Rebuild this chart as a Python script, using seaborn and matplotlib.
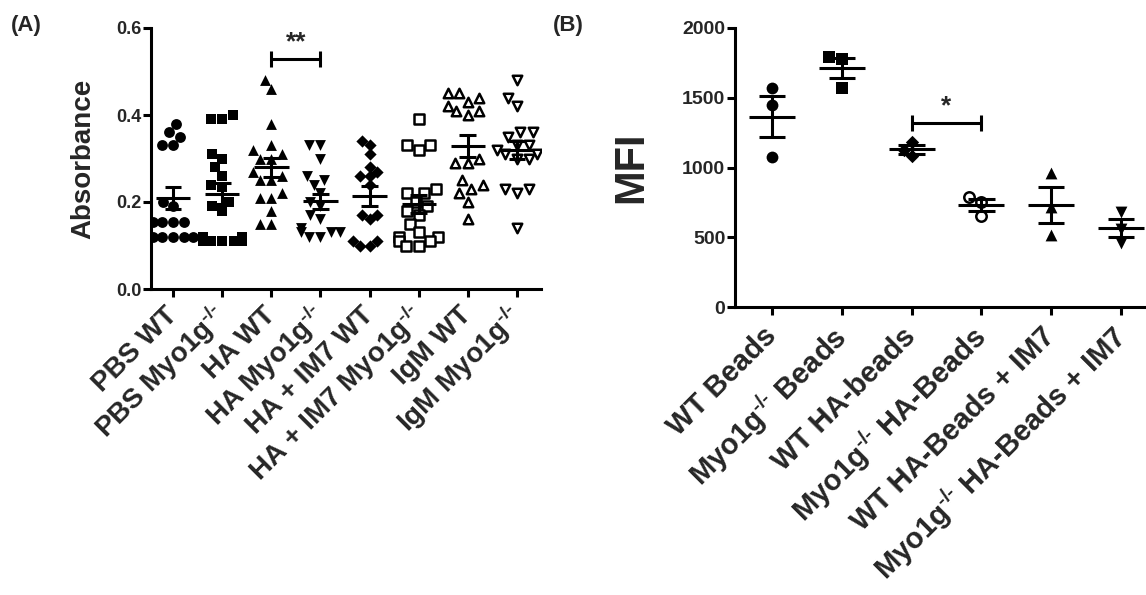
import warnings
import numpy as np
import pandas as pd
import matplotlib
matplotlib.use("Agg")
import matplotlib.pyplot as plt
import seaborn as sns

warnings.filterwarnings("ignore")

# ---- Panel A: absorbance per group ----
KO = "$^{\\text{-/-}}$"
groups_a = ["PBS WT", "PBS Myo1g" + KO, "HA WT", "HA Myo1g" + KO,
            "HA + IM7 WT", "HA + IM7 Myo1g" + KO, "IgM WT", "IgM Myo1g" + KO]
pbs_wt = [0.38, 0.36, 0.35, 0.33, 0.33, 0.20, 0.19, 0.155, 0.155, 0.155, 0.155,
          0.12, 0.12, 0.12, 0.12, 0.12]
pbs_ko = [0.40, 0.39, 0.39, 0.31, 0.30, 0.28, 0.26, 0.24, 0.235, 0.20, 0.19, 0.18,
          0.12, 0.12, 0.11, 0.11, 0.11, 0.11, 0.11]
ha_wt = [0.48, 0.46, 0.38, 0.33, 0.32, 0.31, 0.30, 0.30, 0.27, 0.26, 0.25, 0.25,
         0.22, 0.21, 0.21, 0.18, 0.15, 0.15]
ha_ko = [0.33, 0.33, 0.30, 0.26, 0.25, 0.24, 0.22, 0.20, 0.19, 0.17, 0.16, 0.14,
         0.13, 0.13, 0.13, 0.12, 0.12]
im7_wt = [0.34, 0.33, 0.31, 0.28, 0.27, 0.26, 0.26, 0.24, 0.17, 0.17, 0.16, 0.11,
          0.11, 0.10, 0.10]
im7_ko = [0.39, 0.33, 0.33, 0.32, 0.23, 0.22, 0.22, 0.20, 0.19, 0.18, 0.17, 0.15,
          0.13, 0.12, 0.12, 0.11, 0.11, 0.10, 0.10]
igm_wt = [0.45, 0.45, 0.44, 0.43, 0.42, 0.41, 0.41, 0.40, 0.30, 0.29, 0.29, 0.25,
          0.24, 0.23, 0.22, 0.20, 0.16]
igm_ko = [0.48, 0.44, 0.42, 0.36, 0.36, 0.35, 0.33, 0.33, 0.32, 0.31, 0.31, 0.30,
          0.30, 0.23, 0.23, 0.22, 0.14]
values_a = [pbs_wt, pbs_ko, ha_wt, ha_ko, im7_wt, im7_ko, igm_wt, igm_ko]
sig_a = ("HA WT", "HA Myo1g" + KO, 0.528, "**")

# ---- Panel B: MFI per group ----
groups_b = ["WT Beads", "Myo1g" + KO + " Beads", "WT HA-beads", "Myo1g" + KO + " HA-Beads",
            "WT HA-Beads + IM7", "Myo1g" + KO + " HA-Beads + IM7"]
wt_beads = [1570, 1450, 1075]
ko_beads = [1790, 1780, 1570]
wt_ha = [1185, 1125, 1080]
ko_ha = [790, 750, 655]
wt_ha_im7 = [960, 717, 516]
ko_ha_im7 = [680, 560, 460]
values_b = [wt_beads, ko_beads, wt_ha, ko_ha, wt_ha_im7, ko_ha_im7]
sig_b = ("WT HA-beads", "Myo1g" + KO + " HA-Beads", 1320, "*")

markers_a = ["o", "s", "^", "v", "D", "s", "^", "v"]
filled_a = [True, True, True, True, True, False, False, False]
markers_b = ["o", "s", "D", "o", "^", "v"]
filled_b = [True, True, True, False, True, True]

sns.set_theme(style="ticks")
plt.rcParams["font.family"] = ["Liberation Sans", "DejaVu Sans"]
plt.rcParams["font.weight"] = "bold"
plt.rcParams["mathtext.fontset"] = "custom"
plt.rcParams["mathtext.rm"] = "Liberation Sans:bold"
plt.rcParams["mathtext.default"] = "rm"

LW = 2.2


def scatter_panel(ax, groups, values, markers, filled, msize, mean_hw, cap_hw):
    for i, (name, vals) in enumerate(zip(groups, values)):
        sub = pd.DataFrame({"group": name, "value": vals})
        sz = msize * 0.8 if markers[i] == "D" else msize
        if filled[i]:
            sns.swarmplot(data=sub, x="group", y="value", order=groups, ax=ax,
                          marker=markers[i], color="black", size=sz, linewidth=0)
        else:
            sns.swarmplot(data=sub, x="group", y="value", order=groups, ax=ax,
                          marker=markers[i], color="white", edgecolor="black",
                          size=sz - 1, linewidth=1.8)
        m = np.mean(vals)
        s = np.std(vals, ddof=1) / np.sqrt(len(vals))
        ax.hlines(m, i - mean_hw, i + mean_hw, color="black", lw=LW, zorder=5)
        ax.hlines([m - s, m + s], i - cap_hw, i + cap_hw, color="black", lw=LW, zorder=5)
        ax.vlines(i, m - s, m + s, color="black", lw=LW, zorder=5)


def sig_bar(ax, groups, sig, cap, fs):
    x0, x1 = groups.index(sig[0]), groups.index(sig[1])
    y = sig[2]
    ax.plot([x0, x1], [y, y], color="black", lw=LW, clip_on=False)
    ax.vlines([x0, x1], y - cap, y + cap, color="black", lw=LW, clip_on=False)
    ax.text((x0 + x1) / 2, y + cap * 0.6, sig[3], ha="center", va="bottom",
            fontsize=fs, fontweight="bold")


def style_axes(ax, ylabel, ylabel_fs, yt_fs, xt_fs, pad, xpad):
    sns.despine(ax=ax)
    for sp in ("left", "bottom"):
        ax.spines[sp].set_linewidth(LW)
        ax.spines[sp].set_color("black")
    ax.tick_params(axis="both", direction="out", length=6, width=LW, color="black")
    ax.tick_params(axis="y", labelsize=yt_fs, pad=1)
    ax.tick_params(axis="x", labelsize=xt_fs, pad=xpad)
    for lab in ax.get_xticklabels():
        lab.set_rotation(45)
        lab.set_ha("right")
        lab.set_va("center")
        lab.set_rotation_mode("anchor")
        lab.set_fontweight("bold")
    for lab in ax.get_yticklabels():
        lab.set_fontweight("bold")
    ax.set_xlabel("")
    ax.set_ylabel(ylabel, fontsize=ylabel_fs, fontweight="bold", labelpad=pad)


fig = plt.figure(figsize=(11.46, 5.95), dpi=100)
W, H = 1146, 595

axA = fig.add_axes([151 / W, 1 - 289 / H, (541 - 151) / W, (289 - 28) / H])
scatter_panel(axA, groups_a, values_a, markers_a, filled_a, 7.8, 0.35, 0.17)
axA.set_ylim(0, 0.6)
axA.set_yticks([0.0, 0.2, 0.4, 0.6])
axA.set_yticklabels(["0.0", "0.2", "0.4", "0.6"])
axA.set_xlim(-0.45, 7.49)
style_axes(axA, "Absorbance", 20, 13, 20, 14, 10)
sig_bar(axA, groups_a, sig_a, 0.018, 19)

axB = fig.add_axes([735 / W, 1 - 307 / H, (W - 735) / W, (307 - 28) / H])
scatter_panel(axB, groups_b, values_b, markers_b, filled_b, 8.5, 0.33, 0.19)
axB.set_ylim(0, 2000)
axB.set_yticks([0, 500, 1000, 1500, 2000])
axB.set_xlim(-0.53, 5.36)
style_axes(axB, "MFI", 30, 14, 21, 22, 12)
sig_bar(axB, groups_b, sig_b, 55, 19)

fig.text(11 / W, 1 - 25 / H, "(A)", fontsize=16, fontweight="bold", va="center", ha="left")
fig.text(553 / W, 1 - 25 / H, "(B)", fontsize=16, fontweight="bold", va="center", ha="left")

fig.savefig("out.png", dpi=100, facecolor="white")
